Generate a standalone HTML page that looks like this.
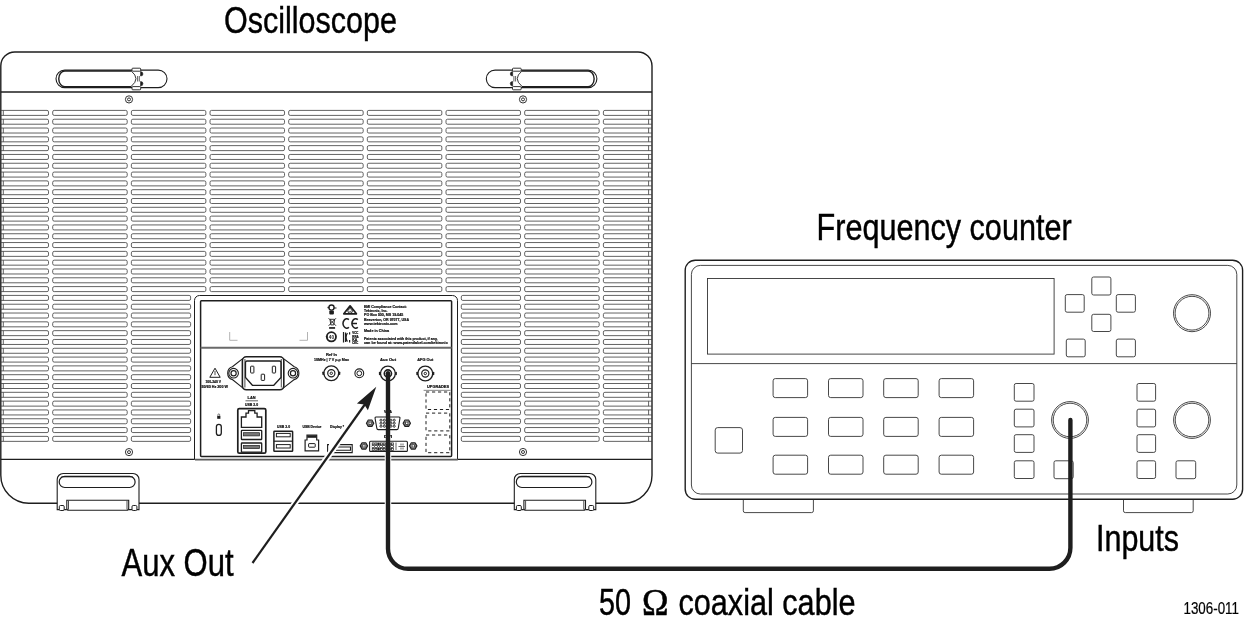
<!DOCTYPE html><html><head><meta charset="utf-8"><style>html,body{margin:0;padding:0;background:#fff;width:1244px;height:627px;overflow:hidden}svg{display:block;will-change:transform}</style></head><body>
<svg width="1244" height="627" viewBox="0 0 1244 627">
<rect width="1244" height="627" fill="#fff"/>
<text x="224" y="33" font-family="&quot;Liberation Sans&quot;" font-size="37.5" font-weight="normal" text-anchor="start" fill="#000" stroke="#000" stroke-width="0.45" textLength="173" lengthAdjust="spacingAndGlyphs">Oscilloscope</text>
<text x="816.6" y="239.6" font-family="&quot;Liberation Sans&quot;" font-size="36.7" font-weight="normal" text-anchor="start" fill="#000" stroke="#000" stroke-width="0.45" textLength="255" lengthAdjust="spacingAndGlyphs">Frequency counter</text>
<text x="1096" y="551.4" font-family="&quot;Liberation Sans&quot;" font-size="37" font-weight="normal" text-anchor="start" fill="#000" stroke="#000" stroke-width="0.45" textLength="83" lengthAdjust="spacingAndGlyphs">Inputs</text>
<text x="121.5" y="575.6" font-family="&quot;Liberation Sans&quot;" font-size="38.5" font-weight="normal" text-anchor="start" fill="#000" stroke="#000" stroke-width="0.45" textLength="112" lengthAdjust="spacingAndGlyphs">Aux Out</text>
<text x="599" y="614.8" font-family="&quot;Liberation Sans&quot;" font-size="37" font-weight="normal" text-anchor="start" fill="#000" stroke="#000" stroke-width="0.45" textLength="32" lengthAdjust="spacingAndGlyphs">50</text>
<text x="642" y="614.8" font-family="&quot;Liberation Serif&quot;" font-size="38" font-weight="normal" text-anchor="start" fill="#000" stroke="#000" stroke-width="0.6" textLength="26.5" lengthAdjust="spacingAndGlyphs">&#937;</text>
<text x="678.5" y="614.8" font-family="&quot;Liberation Sans&quot;" font-size="37" font-weight="normal" text-anchor="start" fill="#000" stroke="#000" stroke-width="0.45" textLength="177" lengthAdjust="spacingAndGlyphs">coaxial cable</text>
<text x="1183.5" y="614.1" font-family="&quot;Liberation Sans&quot;" font-size="16.3" font-weight="normal" text-anchor="start" fill="#000" stroke="#000" stroke-width="0.2" textLength="55.5" lengthAdjust="spacingAndGlyphs">1306-011</text>
<path d="M0.8,66.0 A14,14 0 0 1 14.8,52.0 H638.0 A14,14 0 0 1 652.0,66.0 V475.2 A28,28 0 0 1 624.0,503.2 H28.8 A28,28 0 0 1 0.8,475.2 Z" fill="none" stroke="#1e1e1e" stroke-width="1.4"/>
<line x1="0.80" y1="92.00" x2="652.00" y2="92.00" stroke="#1e1e1e" stroke-width="1.3"/>
<line x1="0.80" y1="459.30" x2="652.00" y2="459.30" stroke="#1e1e1e" stroke-width="1.3"/>
<path d="M0.8,110.40 H47.0 A1.5,1.5 0 0 1 48.5,111.90 V113.90 A1.5,1.5 0 0 1 47.0,115.40 H0.8 M3.3,110.40 V115.40" fill="none" stroke="#404040" stroke-width="0.82"/>
<path d="M652.0,110.40 H604.9 A1.5,1.5 0 0 0 603.4,111.90 V113.90 A1.5,1.5 0 0 0 604.9,115.40 H652.0 M648.6,110.40 V115.40" fill="none" stroke="#404040" stroke-width="0.82"/>
<rect x="52.70" y="110.40" width="74.50" height="5.00" rx="1.50" fill="none" stroke="#404040" stroke-width="0.82"/>
<rect x="131.36" y="110.40" width="74.50" height="5.00" rx="1.50" fill="none" stroke="#404040" stroke-width="0.82"/>
<rect x="210.02" y="110.40" width="74.50" height="5.00" rx="1.50" fill="none" stroke="#404040" stroke-width="0.82"/>
<rect x="288.68" y="110.40" width="74.50" height="5.00" rx="1.50" fill="none" stroke="#404040" stroke-width="0.82"/>
<rect x="367.34" y="110.40" width="74.50" height="5.00" rx="1.50" fill="none" stroke="#404040" stroke-width="0.82"/>
<rect x="446.00" y="110.40" width="74.50" height="5.00" rx="1.50" fill="none" stroke="#404040" stroke-width="0.82"/>
<rect x="524.66" y="110.40" width="74.50" height="5.00" rx="1.50" fill="none" stroke="#404040" stroke-width="0.82"/>
<path d="M0.8,119.21 H47.0 A1.5,1.5 0 0 1 48.5,120.71 V122.71 A1.5,1.5 0 0 1 47.0,124.21 H0.8 M3.3,119.21 V124.21" fill="none" stroke="#404040" stroke-width="0.82"/>
<path d="M652.0,119.21 H604.9 A1.5,1.5 0 0 0 603.4,120.71 V122.71 A1.5,1.5 0 0 0 604.9,124.21 H652.0 M648.6,119.21 V124.21" fill="none" stroke="#404040" stroke-width="0.82"/>
<rect x="52.70" y="119.21" width="74.50" height="5.00" rx="1.50" fill="none" stroke="#404040" stroke-width="0.82"/>
<rect x="131.36" y="119.21" width="74.50" height="5.00" rx="1.50" fill="none" stroke="#404040" stroke-width="0.82"/>
<rect x="210.02" y="119.21" width="74.50" height="5.00" rx="1.50" fill="none" stroke="#404040" stroke-width="0.82"/>
<rect x="288.68" y="119.21" width="74.50" height="5.00" rx="1.50" fill="none" stroke="#404040" stroke-width="0.82"/>
<rect x="367.34" y="119.21" width="74.50" height="5.00" rx="1.50" fill="none" stroke="#404040" stroke-width="0.82"/>
<rect x="446.00" y="119.21" width="74.50" height="5.00" rx="1.50" fill="none" stroke="#404040" stroke-width="0.82"/>
<rect x="524.66" y="119.21" width="74.50" height="5.00" rx="1.50" fill="none" stroke="#404040" stroke-width="0.82"/>
<path d="M0.8,128.02 H47.0 A1.5,1.5 0 0 1 48.5,129.52 V131.52 A1.5,1.5 0 0 1 47.0,133.02 H0.8 M3.3,128.02 V133.02" fill="none" stroke="#404040" stroke-width="0.82"/>
<path d="M652.0,128.02 H604.9 A1.5,1.5 0 0 0 603.4,129.52 V131.52 A1.5,1.5 0 0 0 604.9,133.02 H652.0 M648.6,128.02 V133.02" fill="none" stroke="#404040" stroke-width="0.82"/>
<rect x="52.70" y="128.02" width="74.50" height="5.00" rx="1.50" fill="none" stroke="#404040" stroke-width="0.82"/>
<rect x="131.36" y="128.02" width="74.50" height="5.00" rx="1.50" fill="none" stroke="#404040" stroke-width="0.82"/>
<rect x="210.02" y="128.02" width="74.50" height="5.00" rx="1.50" fill="none" stroke="#404040" stroke-width="0.82"/>
<rect x="288.68" y="128.02" width="74.50" height="5.00" rx="1.50" fill="none" stroke="#404040" stroke-width="0.82"/>
<rect x="367.34" y="128.02" width="74.50" height="5.00" rx="1.50" fill="none" stroke="#404040" stroke-width="0.82"/>
<rect x="446.00" y="128.02" width="74.50" height="5.00" rx="1.50" fill="none" stroke="#404040" stroke-width="0.82"/>
<rect x="524.66" y="128.02" width="74.50" height="5.00" rx="1.50" fill="none" stroke="#404040" stroke-width="0.82"/>
<path d="M0.8,136.83 H47.0 A1.5,1.5 0 0 1 48.5,138.33 V140.33 A1.5,1.5 0 0 1 47.0,141.83 H0.8 M3.3,136.83 V141.83" fill="none" stroke="#404040" stroke-width="0.82"/>
<path d="M652.0,136.83 H604.9 A1.5,1.5 0 0 0 603.4,138.33 V140.33 A1.5,1.5 0 0 0 604.9,141.83 H652.0 M648.6,136.83 V141.83" fill="none" stroke="#404040" stroke-width="0.82"/>
<rect x="52.70" y="136.83" width="74.50" height="5.00" rx="1.50" fill="none" stroke="#404040" stroke-width="0.82"/>
<rect x="131.36" y="136.83" width="74.50" height="5.00" rx="1.50" fill="none" stroke="#404040" stroke-width="0.82"/>
<rect x="210.02" y="136.83" width="74.50" height="5.00" rx="1.50" fill="none" stroke="#404040" stroke-width="0.82"/>
<rect x="288.68" y="136.83" width="74.50" height="5.00" rx="1.50" fill="none" stroke="#404040" stroke-width="0.82"/>
<rect x="367.34" y="136.83" width="74.50" height="5.00" rx="1.50" fill="none" stroke="#404040" stroke-width="0.82"/>
<rect x="446.00" y="136.83" width="74.50" height="5.00" rx="1.50" fill="none" stroke="#404040" stroke-width="0.82"/>
<rect x="524.66" y="136.83" width="74.50" height="5.00" rx="1.50" fill="none" stroke="#404040" stroke-width="0.82"/>
<path d="M0.8,145.64 H47.0 A1.5,1.5 0 0 1 48.5,147.14 V149.14 A1.5,1.5 0 0 1 47.0,150.64 H0.8 M3.3,145.64 V150.64" fill="none" stroke="#404040" stroke-width="0.82"/>
<path d="M652.0,145.64 H604.9 A1.5,1.5 0 0 0 603.4,147.14 V149.14 A1.5,1.5 0 0 0 604.9,150.64 H652.0 M648.6,145.64 V150.64" fill="none" stroke="#404040" stroke-width="0.82"/>
<rect x="52.70" y="145.64" width="74.50" height="5.00" rx="1.50" fill="none" stroke="#404040" stroke-width="0.82"/>
<rect x="131.36" y="145.64" width="74.50" height="5.00" rx="1.50" fill="none" stroke="#404040" stroke-width="0.82"/>
<rect x="210.02" y="145.64" width="74.50" height="5.00" rx="1.50" fill="none" stroke="#404040" stroke-width="0.82"/>
<rect x="288.68" y="145.64" width="74.50" height="5.00" rx="1.50" fill="none" stroke="#404040" stroke-width="0.82"/>
<rect x="367.34" y="145.64" width="74.50" height="5.00" rx="1.50" fill="none" stroke="#404040" stroke-width="0.82"/>
<rect x="446.00" y="145.64" width="74.50" height="5.00" rx="1.50" fill="none" stroke="#404040" stroke-width="0.82"/>
<rect x="524.66" y="145.64" width="74.50" height="5.00" rx="1.50" fill="none" stroke="#404040" stroke-width="0.82"/>
<path d="M0.8,154.45 H47.0 A1.5,1.5 0 0 1 48.5,155.95 V157.95 A1.5,1.5 0 0 1 47.0,159.45 H0.8 M3.3,154.45 V159.45" fill="none" stroke="#404040" stroke-width="0.82"/>
<path d="M652.0,154.45 H604.9 A1.5,1.5 0 0 0 603.4,155.95 V157.95 A1.5,1.5 0 0 0 604.9,159.45 H652.0 M648.6,154.45 V159.45" fill="none" stroke="#404040" stroke-width="0.82"/>
<rect x="52.70" y="154.45" width="74.50" height="5.00" rx="1.50" fill="none" stroke="#404040" stroke-width="0.82"/>
<rect x="131.36" y="154.45" width="74.50" height="5.00" rx="1.50" fill="none" stroke="#404040" stroke-width="0.82"/>
<rect x="210.02" y="154.45" width="74.50" height="5.00" rx="1.50" fill="none" stroke="#404040" stroke-width="0.82"/>
<rect x="288.68" y="154.45" width="74.50" height="5.00" rx="1.50" fill="none" stroke="#404040" stroke-width="0.82"/>
<rect x="367.34" y="154.45" width="74.50" height="5.00" rx="1.50" fill="none" stroke="#404040" stroke-width="0.82"/>
<rect x="446.00" y="154.45" width="74.50" height="5.00" rx="1.50" fill="none" stroke="#404040" stroke-width="0.82"/>
<rect x="524.66" y="154.45" width="74.50" height="5.00" rx="1.50" fill="none" stroke="#404040" stroke-width="0.82"/>
<path d="M0.8,163.26 H47.0 A1.5,1.5 0 0 1 48.5,164.76 V166.76 A1.5,1.5 0 0 1 47.0,168.26 H0.8 M3.3,163.26 V168.26" fill="none" stroke="#404040" stroke-width="0.82"/>
<path d="M652.0,163.26 H604.9 A1.5,1.5 0 0 0 603.4,164.76 V166.76 A1.5,1.5 0 0 0 604.9,168.26 H652.0 M648.6,163.26 V168.26" fill="none" stroke="#404040" stroke-width="0.82"/>
<rect x="52.70" y="163.26" width="74.50" height="5.00" rx="1.50" fill="none" stroke="#404040" stroke-width="0.82"/>
<rect x="131.36" y="163.26" width="74.50" height="5.00" rx="1.50" fill="none" stroke="#404040" stroke-width="0.82"/>
<rect x="210.02" y="163.26" width="74.50" height="5.00" rx="1.50" fill="none" stroke="#404040" stroke-width="0.82"/>
<rect x="288.68" y="163.26" width="74.50" height="5.00" rx="1.50" fill="none" stroke="#404040" stroke-width="0.82"/>
<rect x="367.34" y="163.26" width="74.50" height="5.00" rx="1.50" fill="none" stroke="#404040" stroke-width="0.82"/>
<rect x="446.00" y="163.26" width="74.50" height="5.00" rx="1.50" fill="none" stroke="#404040" stroke-width="0.82"/>
<rect x="524.66" y="163.26" width="74.50" height="5.00" rx="1.50" fill="none" stroke="#404040" stroke-width="0.82"/>
<path d="M0.8,172.07 H47.0 A1.5,1.5 0 0 1 48.5,173.57 V175.57 A1.5,1.5 0 0 1 47.0,177.07 H0.8 M3.3,172.07 V177.07" fill="none" stroke="#404040" stroke-width="0.82"/>
<path d="M652.0,172.07 H604.9 A1.5,1.5 0 0 0 603.4,173.57 V175.57 A1.5,1.5 0 0 0 604.9,177.07 H652.0 M648.6,172.07 V177.07" fill="none" stroke="#404040" stroke-width="0.82"/>
<rect x="52.70" y="172.07" width="74.50" height="5.00" rx="1.50" fill="none" stroke="#404040" stroke-width="0.82"/>
<rect x="131.36" y="172.07" width="74.50" height="5.00" rx="1.50" fill="none" stroke="#404040" stroke-width="0.82"/>
<rect x="210.02" y="172.07" width="74.50" height="5.00" rx="1.50" fill="none" stroke="#404040" stroke-width="0.82"/>
<rect x="288.68" y="172.07" width="74.50" height="5.00" rx="1.50" fill="none" stroke="#404040" stroke-width="0.82"/>
<rect x="367.34" y="172.07" width="74.50" height="5.00" rx="1.50" fill="none" stroke="#404040" stroke-width="0.82"/>
<rect x="446.00" y="172.07" width="74.50" height="5.00" rx="1.50" fill="none" stroke="#404040" stroke-width="0.82"/>
<rect x="524.66" y="172.07" width="74.50" height="5.00" rx="1.50" fill="none" stroke="#404040" stroke-width="0.82"/>
<path d="M0.8,180.88 H47.0 A1.5,1.5 0 0 1 48.5,182.38 V184.38 A1.5,1.5 0 0 1 47.0,185.88 H0.8 M3.3,180.88 V185.88" fill="none" stroke="#404040" stroke-width="0.82"/>
<path d="M652.0,180.88 H604.9 A1.5,1.5 0 0 0 603.4,182.38 V184.38 A1.5,1.5 0 0 0 604.9,185.88 H652.0 M648.6,180.88 V185.88" fill="none" stroke="#404040" stroke-width="0.82"/>
<rect x="52.70" y="180.88" width="74.50" height="5.00" rx="1.50" fill="none" stroke="#404040" stroke-width="0.82"/>
<rect x="131.36" y="180.88" width="74.50" height="5.00" rx="1.50" fill="none" stroke="#404040" stroke-width="0.82"/>
<rect x="210.02" y="180.88" width="74.50" height="5.00" rx="1.50" fill="none" stroke="#404040" stroke-width="0.82"/>
<rect x="288.68" y="180.88" width="74.50" height="5.00" rx="1.50" fill="none" stroke="#404040" stroke-width="0.82"/>
<rect x="367.34" y="180.88" width="74.50" height="5.00" rx="1.50" fill="none" stroke="#404040" stroke-width="0.82"/>
<rect x="446.00" y="180.88" width="74.50" height="5.00" rx="1.50" fill="none" stroke="#404040" stroke-width="0.82"/>
<rect x="524.66" y="180.88" width="74.50" height="5.00" rx="1.50" fill="none" stroke="#404040" stroke-width="0.82"/>
<path d="M0.8,189.69 H47.0 A1.5,1.5 0 0 1 48.5,191.19 V193.19 A1.5,1.5 0 0 1 47.0,194.69 H0.8 M3.3,189.69 V194.69" fill="none" stroke="#404040" stroke-width="0.82"/>
<path d="M652.0,189.69 H604.9 A1.5,1.5 0 0 0 603.4,191.19 V193.19 A1.5,1.5 0 0 0 604.9,194.69 H652.0 M648.6,189.69 V194.69" fill="none" stroke="#404040" stroke-width="0.82"/>
<rect x="52.70" y="189.69" width="74.50" height="5.00" rx="1.50" fill="none" stroke="#404040" stroke-width="0.82"/>
<rect x="131.36" y="189.69" width="74.50" height="5.00" rx="1.50" fill="none" stroke="#404040" stroke-width="0.82"/>
<rect x="210.02" y="189.69" width="74.50" height="5.00" rx="1.50" fill="none" stroke="#404040" stroke-width="0.82"/>
<rect x="288.68" y="189.69" width="74.50" height="5.00" rx="1.50" fill="none" stroke="#404040" stroke-width="0.82"/>
<rect x="367.34" y="189.69" width="74.50" height="5.00" rx="1.50" fill="none" stroke="#404040" stroke-width="0.82"/>
<rect x="446.00" y="189.69" width="74.50" height="5.00" rx="1.50" fill="none" stroke="#404040" stroke-width="0.82"/>
<rect x="524.66" y="189.69" width="74.50" height="5.00" rx="1.50" fill="none" stroke="#404040" stroke-width="0.82"/>
<path d="M0.8,198.50 H47.0 A1.5,1.5 0 0 1 48.5,200.00 V202.00 A1.5,1.5 0 0 1 47.0,203.50 H0.8 M3.3,198.50 V203.50" fill="none" stroke="#404040" stroke-width="0.82"/>
<path d="M652.0,198.50 H604.9 A1.5,1.5 0 0 0 603.4,200.00 V202.00 A1.5,1.5 0 0 0 604.9,203.50 H652.0 M648.6,198.50 V203.50" fill="none" stroke="#404040" stroke-width="0.82"/>
<rect x="52.70" y="198.50" width="74.50" height="5.00" rx="1.50" fill="none" stroke="#404040" stroke-width="0.82"/>
<rect x="131.36" y="198.50" width="74.50" height="5.00" rx="1.50" fill="none" stroke="#404040" stroke-width="0.82"/>
<rect x="210.02" y="198.50" width="74.50" height="5.00" rx="1.50" fill="none" stroke="#404040" stroke-width="0.82"/>
<rect x="288.68" y="198.50" width="74.50" height="5.00" rx="1.50" fill="none" stroke="#404040" stroke-width="0.82"/>
<rect x="367.34" y="198.50" width="74.50" height="5.00" rx="1.50" fill="none" stroke="#404040" stroke-width="0.82"/>
<rect x="446.00" y="198.50" width="74.50" height="5.00" rx="1.50" fill="none" stroke="#404040" stroke-width="0.82"/>
<rect x="524.66" y="198.50" width="74.50" height="5.00" rx="1.50" fill="none" stroke="#404040" stroke-width="0.82"/>
<path d="M0.8,207.31 H47.0 A1.5,1.5 0 0 1 48.5,208.81 V210.81 A1.5,1.5 0 0 1 47.0,212.31 H0.8 M3.3,207.31 V212.31" fill="none" stroke="#404040" stroke-width="0.82"/>
<path d="M652.0,207.31 H604.9 A1.5,1.5 0 0 0 603.4,208.81 V210.81 A1.5,1.5 0 0 0 604.9,212.31 H652.0 M648.6,207.31 V212.31" fill="none" stroke="#404040" stroke-width="0.82"/>
<rect x="52.70" y="207.31" width="74.50" height="5.00" rx="1.50" fill="none" stroke="#404040" stroke-width="0.82"/>
<rect x="131.36" y="207.31" width="74.50" height="5.00" rx="1.50" fill="none" stroke="#404040" stroke-width="0.82"/>
<rect x="210.02" y="207.31" width="74.50" height="5.00" rx="1.50" fill="none" stroke="#404040" stroke-width="0.82"/>
<rect x="288.68" y="207.31" width="74.50" height="5.00" rx="1.50" fill="none" stroke="#404040" stroke-width="0.82"/>
<rect x="367.34" y="207.31" width="74.50" height="5.00" rx="1.50" fill="none" stroke="#404040" stroke-width="0.82"/>
<rect x="446.00" y="207.31" width="74.50" height="5.00" rx="1.50" fill="none" stroke="#404040" stroke-width="0.82"/>
<rect x="524.66" y="207.31" width="74.50" height="5.00" rx="1.50" fill="none" stroke="#404040" stroke-width="0.82"/>
<path d="M0.8,216.12 H47.0 A1.5,1.5 0 0 1 48.5,217.62 V219.62 A1.5,1.5 0 0 1 47.0,221.12 H0.8 M3.3,216.12 V221.12" fill="none" stroke="#404040" stroke-width="0.82"/>
<path d="M652.0,216.12 H604.9 A1.5,1.5 0 0 0 603.4,217.62 V219.62 A1.5,1.5 0 0 0 604.9,221.12 H652.0 M648.6,216.12 V221.12" fill="none" stroke="#404040" stroke-width="0.82"/>
<rect x="52.70" y="216.12" width="74.50" height="5.00" rx="1.50" fill="none" stroke="#404040" stroke-width="0.82"/>
<rect x="131.36" y="216.12" width="74.50" height="5.00" rx="1.50" fill="none" stroke="#404040" stroke-width="0.82"/>
<rect x="210.02" y="216.12" width="74.50" height="5.00" rx="1.50" fill="none" stroke="#404040" stroke-width="0.82"/>
<rect x="288.68" y="216.12" width="74.50" height="5.00" rx="1.50" fill="none" stroke="#404040" stroke-width="0.82"/>
<rect x="367.34" y="216.12" width="74.50" height="5.00" rx="1.50" fill="none" stroke="#404040" stroke-width="0.82"/>
<rect x="446.00" y="216.12" width="74.50" height="5.00" rx="1.50" fill="none" stroke="#404040" stroke-width="0.82"/>
<rect x="524.66" y="216.12" width="74.50" height="5.00" rx="1.50" fill="none" stroke="#404040" stroke-width="0.82"/>
<path d="M0.8,224.93 H47.0 A1.5,1.5 0 0 1 48.5,226.43 V228.43 A1.5,1.5 0 0 1 47.0,229.93 H0.8 M3.3,224.93 V229.93" fill="none" stroke="#404040" stroke-width="0.82"/>
<path d="M652.0,224.93 H604.9 A1.5,1.5 0 0 0 603.4,226.43 V228.43 A1.5,1.5 0 0 0 604.9,229.93 H652.0 M648.6,224.93 V229.93" fill="none" stroke="#404040" stroke-width="0.82"/>
<rect x="52.70" y="224.93" width="74.50" height="5.00" rx="1.50" fill="none" stroke="#404040" stroke-width="0.82"/>
<rect x="131.36" y="224.93" width="74.50" height="5.00" rx="1.50" fill="none" stroke="#404040" stroke-width="0.82"/>
<rect x="210.02" y="224.93" width="74.50" height="5.00" rx="1.50" fill="none" stroke="#404040" stroke-width="0.82"/>
<rect x="288.68" y="224.93" width="74.50" height="5.00" rx="1.50" fill="none" stroke="#404040" stroke-width="0.82"/>
<rect x="367.34" y="224.93" width="74.50" height="5.00" rx="1.50" fill="none" stroke="#404040" stroke-width="0.82"/>
<rect x="446.00" y="224.93" width="74.50" height="5.00" rx="1.50" fill="none" stroke="#404040" stroke-width="0.82"/>
<rect x="524.66" y="224.93" width="74.50" height="5.00" rx="1.50" fill="none" stroke="#404040" stroke-width="0.82"/>
<path d="M0.8,233.74 H47.0 A1.5,1.5 0 0 1 48.5,235.24 V237.24 A1.5,1.5 0 0 1 47.0,238.74 H0.8 M3.3,233.74 V238.74" fill="none" stroke="#404040" stroke-width="0.82"/>
<path d="M652.0,233.74 H604.9 A1.5,1.5 0 0 0 603.4,235.24 V237.24 A1.5,1.5 0 0 0 604.9,238.74 H652.0 M648.6,233.74 V238.74" fill="none" stroke="#404040" stroke-width="0.82"/>
<rect x="52.70" y="233.74" width="74.50" height="5.00" rx="1.50" fill="none" stroke="#404040" stroke-width="0.82"/>
<rect x="131.36" y="233.74" width="74.50" height="5.00" rx="1.50" fill="none" stroke="#404040" stroke-width="0.82"/>
<rect x="210.02" y="233.74" width="74.50" height="5.00" rx="1.50" fill="none" stroke="#404040" stroke-width="0.82"/>
<rect x="288.68" y="233.74" width="74.50" height="5.00" rx="1.50" fill="none" stroke="#404040" stroke-width="0.82"/>
<rect x="367.34" y="233.74" width="74.50" height="5.00" rx="1.50" fill="none" stroke="#404040" stroke-width="0.82"/>
<rect x="446.00" y="233.74" width="74.50" height="5.00" rx="1.50" fill="none" stroke="#404040" stroke-width="0.82"/>
<rect x="524.66" y="233.74" width="74.50" height="5.00" rx="1.50" fill="none" stroke="#404040" stroke-width="0.82"/>
<path d="M0.8,242.55 H47.0 A1.5,1.5 0 0 1 48.5,244.05 V246.05 A1.5,1.5 0 0 1 47.0,247.55 H0.8 M3.3,242.55 V247.55" fill="none" stroke="#404040" stroke-width="0.82"/>
<path d="M652.0,242.55 H604.9 A1.5,1.5 0 0 0 603.4,244.05 V246.05 A1.5,1.5 0 0 0 604.9,247.55 H652.0 M648.6,242.55 V247.55" fill="none" stroke="#404040" stroke-width="0.82"/>
<rect x="52.70" y="242.55" width="74.50" height="5.00" rx="1.50" fill="none" stroke="#404040" stroke-width="0.82"/>
<rect x="131.36" y="242.55" width="74.50" height="5.00" rx="1.50" fill="none" stroke="#404040" stroke-width="0.82"/>
<rect x="210.02" y="242.55" width="74.50" height="5.00" rx="1.50" fill="none" stroke="#404040" stroke-width="0.82"/>
<rect x="288.68" y="242.55" width="74.50" height="5.00" rx="1.50" fill="none" stroke="#404040" stroke-width="0.82"/>
<rect x="367.34" y="242.55" width="74.50" height="5.00" rx="1.50" fill="none" stroke="#404040" stroke-width="0.82"/>
<rect x="446.00" y="242.55" width="74.50" height="5.00" rx="1.50" fill="none" stroke="#404040" stroke-width="0.82"/>
<rect x="524.66" y="242.55" width="74.50" height="5.00" rx="1.50" fill="none" stroke="#404040" stroke-width="0.82"/>
<path d="M0.8,251.36 H47.0 A1.5,1.5 0 0 1 48.5,252.86 V254.86 A1.5,1.5 0 0 1 47.0,256.36 H0.8 M3.3,251.36 V256.36" fill="none" stroke="#404040" stroke-width="0.82"/>
<path d="M652.0,251.36 H604.9 A1.5,1.5 0 0 0 603.4,252.86 V254.86 A1.5,1.5 0 0 0 604.9,256.36 H652.0 M648.6,251.36 V256.36" fill="none" stroke="#404040" stroke-width="0.82"/>
<rect x="52.70" y="251.36" width="74.50" height="5.00" rx="1.50" fill="none" stroke="#404040" stroke-width="0.82"/>
<rect x="131.36" y="251.36" width="74.50" height="5.00" rx="1.50" fill="none" stroke="#404040" stroke-width="0.82"/>
<rect x="210.02" y="251.36" width="74.50" height="5.00" rx="1.50" fill="none" stroke="#404040" stroke-width="0.82"/>
<rect x="288.68" y="251.36" width="74.50" height="5.00" rx="1.50" fill="none" stroke="#404040" stroke-width="0.82"/>
<rect x="367.34" y="251.36" width="74.50" height="5.00" rx="1.50" fill="none" stroke="#404040" stroke-width="0.82"/>
<rect x="446.00" y="251.36" width="74.50" height="5.00" rx="1.50" fill="none" stroke="#404040" stroke-width="0.82"/>
<rect x="524.66" y="251.36" width="74.50" height="5.00" rx="1.50" fill="none" stroke="#404040" stroke-width="0.82"/>
<path d="M0.8,260.17 H47.0 A1.5,1.5 0 0 1 48.5,261.67 V263.67 A1.5,1.5 0 0 1 47.0,265.17 H0.8 M3.3,260.17 V265.17" fill="none" stroke="#404040" stroke-width="0.82"/>
<path d="M652.0,260.17 H604.9 A1.5,1.5 0 0 0 603.4,261.67 V263.67 A1.5,1.5 0 0 0 604.9,265.17 H652.0 M648.6,260.17 V265.17" fill="none" stroke="#404040" stroke-width="0.82"/>
<rect x="52.70" y="260.17" width="74.50" height="5.00" rx="1.50" fill="none" stroke="#404040" stroke-width="0.82"/>
<rect x="131.36" y="260.17" width="74.50" height="5.00" rx="1.50" fill="none" stroke="#404040" stroke-width="0.82"/>
<rect x="210.02" y="260.17" width="74.50" height="5.00" rx="1.50" fill="none" stroke="#404040" stroke-width="0.82"/>
<rect x="288.68" y="260.17" width="74.50" height="5.00" rx="1.50" fill="none" stroke="#404040" stroke-width="0.82"/>
<rect x="367.34" y="260.17" width="74.50" height="5.00" rx="1.50" fill="none" stroke="#404040" stroke-width="0.82"/>
<rect x="446.00" y="260.17" width="74.50" height="5.00" rx="1.50" fill="none" stroke="#404040" stroke-width="0.82"/>
<rect x="524.66" y="260.17" width="74.50" height="5.00" rx="1.50" fill="none" stroke="#404040" stroke-width="0.82"/>
<path d="M0.8,268.98 H47.0 A1.5,1.5 0 0 1 48.5,270.48 V272.48 A1.5,1.5 0 0 1 47.0,273.98 H0.8 M3.3,268.98 V273.98" fill="none" stroke="#404040" stroke-width="0.82"/>
<path d="M652.0,268.98 H604.9 A1.5,1.5 0 0 0 603.4,270.48 V272.48 A1.5,1.5 0 0 0 604.9,273.98 H652.0 M648.6,268.98 V273.98" fill="none" stroke="#404040" stroke-width="0.82"/>
<rect x="52.70" y="268.98" width="74.50" height="5.00" rx="1.50" fill="none" stroke="#404040" stroke-width="0.82"/>
<rect x="131.36" y="268.98" width="74.50" height="5.00" rx="1.50" fill="none" stroke="#404040" stroke-width="0.82"/>
<rect x="210.02" y="268.98" width="74.50" height="5.00" rx="1.50" fill="none" stroke="#404040" stroke-width="0.82"/>
<rect x="288.68" y="268.98" width="74.50" height="5.00" rx="1.50" fill="none" stroke="#404040" stroke-width="0.82"/>
<rect x="367.34" y="268.98" width="74.50" height="5.00" rx="1.50" fill="none" stroke="#404040" stroke-width="0.82"/>
<rect x="446.00" y="268.98" width="74.50" height="5.00" rx="1.50" fill="none" stroke="#404040" stroke-width="0.82"/>
<rect x="524.66" y="268.98" width="74.50" height="5.00" rx="1.50" fill="none" stroke="#404040" stroke-width="0.82"/>
<path d="M0.8,277.79 H47.0 A1.5,1.5 0 0 1 48.5,279.29 V281.29 A1.5,1.5 0 0 1 47.0,282.79 H0.8 M3.3,277.79 V282.79" fill="none" stroke="#404040" stroke-width="0.82"/>
<path d="M652.0,277.79 H604.9 A1.5,1.5 0 0 0 603.4,279.29 V281.29 A1.5,1.5 0 0 0 604.9,282.79 H652.0 M648.6,277.79 V282.79" fill="none" stroke="#404040" stroke-width="0.82"/>
<rect x="52.70" y="277.79" width="74.50" height="5.00" rx="1.50" fill="none" stroke="#404040" stroke-width="0.82"/>
<rect x="131.36" y="277.79" width="74.50" height="5.00" rx="1.50" fill="none" stroke="#404040" stroke-width="0.82"/>
<rect x="210.02" y="277.79" width="74.50" height="5.00" rx="1.50" fill="none" stroke="#404040" stroke-width="0.82"/>
<rect x="288.68" y="277.79" width="74.50" height="5.00" rx="1.50" fill="none" stroke="#404040" stroke-width="0.82"/>
<rect x="367.34" y="277.79" width="74.50" height="5.00" rx="1.50" fill="none" stroke="#404040" stroke-width="0.82"/>
<rect x="446.00" y="277.79" width="74.50" height="5.00" rx="1.50" fill="none" stroke="#404040" stroke-width="0.82"/>
<rect x="524.66" y="277.79" width="74.50" height="5.00" rx="1.50" fill="none" stroke="#404040" stroke-width="0.82"/>
<path d="M0.8,286.60 H47.0 A1.5,1.5 0 0 1 48.5,288.10 V290.10 A1.5,1.5 0 0 1 47.0,291.60 H0.8 M3.3,286.60 V291.60" fill="none" stroke="#404040" stroke-width="0.82"/>
<path d="M652.0,286.60 H604.9 A1.5,1.5 0 0 0 603.4,288.10 V290.10 A1.5,1.5 0 0 0 604.9,291.60 H652.0 M648.6,286.60 V291.60" fill="none" stroke="#404040" stroke-width="0.82"/>
<rect x="52.70" y="286.60" width="74.50" height="5.00" rx="1.50" fill="none" stroke="#404040" stroke-width="0.82"/>
<rect x="131.36" y="286.60" width="74.50" height="5.00" rx="1.50" fill="none" stroke="#404040" stroke-width="0.82"/>
<rect x="210.02" y="286.60" width="74.50" height="5.00" rx="1.50" fill="none" stroke="#404040" stroke-width="0.82"/>
<rect x="288.68" y="286.60" width="74.50" height="5.00" rx="1.50" fill="none" stroke="#404040" stroke-width="0.82"/>
<rect x="367.34" y="286.60" width="74.50" height="5.00" rx="1.50" fill="none" stroke="#404040" stroke-width="0.82"/>
<rect x="446.00" y="286.60" width="74.50" height="5.00" rx="1.50" fill="none" stroke="#404040" stroke-width="0.82"/>
<rect x="524.66" y="286.60" width="74.50" height="5.00" rx="1.50" fill="none" stroke="#404040" stroke-width="0.82"/>
<path d="M0.8,295.41 H47.0 A1.5,1.5 0 0 1 48.5,296.91 V298.91 A1.5,1.5 0 0 1 47.0,300.41 H0.8 M3.3,295.41 V300.41" fill="none" stroke="#404040" stroke-width="0.82"/>
<path d="M652.0,295.41 H604.9 A1.5,1.5 0 0 0 603.4,296.91 V298.91 A1.5,1.5 0 0 0 604.9,300.41 H652.0 M648.6,295.41 V300.41" fill="none" stroke="#404040" stroke-width="0.82"/>
<rect x="52.70" y="295.41" width="74.50" height="5.00" rx="1.50" fill="none" stroke="#404040" stroke-width="0.82"/>
<rect x="131.36" y="295.41" width="59.24" height="5.00" rx="1.50" fill="none" stroke="#404040" stroke-width="0.82"/>
<rect x="461.30" y="295.41" width="59.20" height="5.00" rx="1.50" fill="none" stroke="#404040" stroke-width="0.82"/>
<rect x="524.66" y="295.41" width="74.50" height="5.00" rx="1.50" fill="none" stroke="#404040" stroke-width="0.82"/>
<path d="M0.8,304.22 H47.0 A1.5,1.5 0 0 1 48.5,305.72 V307.72 A1.5,1.5 0 0 1 47.0,309.22 H0.8 M3.3,304.22 V309.22" fill="none" stroke="#404040" stroke-width="0.82"/>
<path d="M652.0,304.22 H604.9 A1.5,1.5 0 0 0 603.4,305.72 V307.72 A1.5,1.5 0 0 0 604.9,309.22 H652.0 M648.6,304.22 V309.22" fill="none" stroke="#404040" stroke-width="0.82"/>
<rect x="52.70" y="304.22" width="74.50" height="5.00" rx="1.50" fill="none" stroke="#404040" stroke-width="0.82"/>
<rect x="131.36" y="304.22" width="59.24" height="5.00" rx="1.50" fill="none" stroke="#404040" stroke-width="0.82"/>
<rect x="461.30" y="304.22" width="59.20" height="5.00" rx="1.50" fill="none" stroke="#404040" stroke-width="0.82"/>
<rect x="524.66" y="304.22" width="74.50" height="5.00" rx="1.50" fill="none" stroke="#404040" stroke-width="0.82"/>
<path d="M0.8,313.03 H47.0 A1.5,1.5 0 0 1 48.5,314.53 V316.53 A1.5,1.5 0 0 1 47.0,318.03 H0.8 M3.3,313.03 V318.03" fill="none" stroke="#404040" stroke-width="0.82"/>
<path d="M652.0,313.03 H604.9 A1.5,1.5 0 0 0 603.4,314.53 V316.53 A1.5,1.5 0 0 0 604.9,318.03 H652.0 M648.6,313.03 V318.03" fill="none" stroke="#404040" stroke-width="0.82"/>
<rect x="52.70" y="313.03" width="74.50" height="5.00" rx="1.50" fill="none" stroke="#404040" stroke-width="0.82"/>
<rect x="131.36" y="313.03" width="59.24" height="5.00" rx="1.50" fill="none" stroke="#404040" stroke-width="0.82"/>
<rect x="461.30" y="313.03" width="59.20" height="5.00" rx="1.50" fill="none" stroke="#404040" stroke-width="0.82"/>
<rect x="524.66" y="313.03" width="74.50" height="5.00" rx="1.50" fill="none" stroke="#404040" stroke-width="0.82"/>
<path d="M0.8,321.84 H47.0 A1.5,1.5 0 0 1 48.5,323.34 V325.34 A1.5,1.5 0 0 1 47.0,326.84 H0.8 M3.3,321.84 V326.84" fill="none" stroke="#404040" stroke-width="0.82"/>
<path d="M652.0,321.84 H604.9 A1.5,1.5 0 0 0 603.4,323.34 V325.34 A1.5,1.5 0 0 0 604.9,326.84 H652.0 M648.6,321.84 V326.84" fill="none" stroke="#404040" stroke-width="0.82"/>
<rect x="52.70" y="321.84" width="74.50" height="5.00" rx="1.50" fill="none" stroke="#404040" stroke-width="0.82"/>
<rect x="131.36" y="321.84" width="59.24" height="5.00" rx="1.50" fill="none" stroke="#404040" stroke-width="0.82"/>
<rect x="461.30" y="321.84" width="59.20" height="5.00" rx="1.50" fill="none" stroke="#404040" stroke-width="0.82"/>
<rect x="524.66" y="321.84" width="74.50" height="5.00" rx="1.50" fill="none" stroke="#404040" stroke-width="0.82"/>
<path d="M0.8,330.65 H47.0 A1.5,1.5 0 0 1 48.5,332.15 V334.15 A1.5,1.5 0 0 1 47.0,335.65 H0.8 M3.3,330.65 V335.65" fill="none" stroke="#404040" stroke-width="0.82"/>
<path d="M652.0,330.65 H604.9 A1.5,1.5 0 0 0 603.4,332.15 V334.15 A1.5,1.5 0 0 0 604.9,335.65 H652.0 M648.6,330.65 V335.65" fill="none" stroke="#404040" stroke-width="0.82"/>
<rect x="52.70" y="330.65" width="74.50" height="5.00" rx="1.50" fill="none" stroke="#404040" stroke-width="0.82"/>
<rect x="131.36" y="330.65" width="59.24" height="5.00" rx="1.50" fill="none" stroke="#404040" stroke-width="0.82"/>
<rect x="461.30" y="330.65" width="59.20" height="5.00" rx="1.50" fill="none" stroke="#404040" stroke-width="0.82"/>
<rect x="524.66" y="330.65" width="74.50" height="5.00" rx="1.50" fill="none" stroke="#404040" stroke-width="0.82"/>
<path d="M0.8,339.46 H47.0 A1.5,1.5 0 0 1 48.5,340.96 V342.96 A1.5,1.5 0 0 1 47.0,344.46 H0.8 M3.3,339.46 V344.46" fill="none" stroke="#404040" stroke-width="0.82"/>
<path d="M652.0,339.46 H604.9 A1.5,1.5 0 0 0 603.4,340.96 V342.96 A1.5,1.5 0 0 0 604.9,344.46 H652.0 M648.6,339.46 V344.46" fill="none" stroke="#404040" stroke-width="0.82"/>
<rect x="52.70" y="339.46" width="74.50" height="5.00" rx="1.50" fill="none" stroke="#404040" stroke-width="0.82"/>
<rect x="131.36" y="339.46" width="59.24" height="5.00" rx="1.50" fill="none" stroke="#404040" stroke-width="0.82"/>
<rect x="461.30" y="339.46" width="59.20" height="5.00" rx="1.50" fill="none" stroke="#404040" stroke-width="0.82"/>
<rect x="524.66" y="339.46" width="74.50" height="5.00" rx="1.50" fill="none" stroke="#404040" stroke-width="0.82"/>
<path d="M0.8,348.27 H47.0 A1.5,1.5 0 0 1 48.5,349.77 V351.77 A1.5,1.5 0 0 1 47.0,353.27 H0.8 M3.3,348.27 V353.27" fill="none" stroke="#404040" stroke-width="0.82"/>
<path d="M652.0,348.27 H604.9 A1.5,1.5 0 0 0 603.4,349.77 V351.77 A1.5,1.5 0 0 0 604.9,353.27 H652.0 M648.6,348.27 V353.27" fill="none" stroke="#404040" stroke-width="0.82"/>
<rect x="52.70" y="348.27" width="74.50" height="5.00" rx="1.50" fill="none" stroke="#404040" stroke-width="0.82"/>
<rect x="131.36" y="348.27" width="59.24" height="5.00" rx="1.50" fill="none" stroke="#404040" stroke-width="0.82"/>
<rect x="461.30" y="348.27" width="59.20" height="5.00" rx="1.50" fill="none" stroke="#404040" stroke-width="0.82"/>
<rect x="524.66" y="348.27" width="74.50" height="5.00" rx="1.50" fill="none" stroke="#404040" stroke-width="0.82"/>
<path d="M0.8,357.08 H47.0 A1.5,1.5 0 0 1 48.5,358.58 V360.58 A1.5,1.5 0 0 1 47.0,362.08 H0.8 M3.3,357.08 V362.08" fill="none" stroke="#404040" stroke-width="0.82"/>
<path d="M652.0,357.08 H604.9 A1.5,1.5 0 0 0 603.4,358.58 V360.58 A1.5,1.5 0 0 0 604.9,362.08 H652.0 M648.6,357.08 V362.08" fill="none" stroke="#404040" stroke-width="0.82"/>
<rect x="52.70" y="357.08" width="74.50" height="5.00" rx="1.50" fill="none" stroke="#404040" stroke-width="0.82"/>
<rect x="131.36" y="357.08" width="59.24" height="5.00" rx="1.50" fill="none" stroke="#404040" stroke-width="0.82"/>
<rect x="461.30" y="357.08" width="59.20" height="5.00" rx="1.50" fill="none" stroke="#404040" stroke-width="0.82"/>
<rect x="524.66" y="357.08" width="74.50" height="5.00" rx="1.50" fill="none" stroke="#404040" stroke-width="0.82"/>
<path d="M0.8,365.89 H47.0 A1.5,1.5 0 0 1 48.5,367.39 V369.39 A1.5,1.5 0 0 1 47.0,370.89 H0.8 M3.3,365.89 V370.89" fill="none" stroke="#404040" stroke-width="0.82"/>
<path d="M652.0,365.89 H604.9 A1.5,1.5 0 0 0 603.4,367.39 V369.39 A1.5,1.5 0 0 0 604.9,370.89 H652.0 M648.6,365.89 V370.89" fill="none" stroke="#404040" stroke-width="0.82"/>
<rect x="52.70" y="365.89" width="74.50" height="5.00" rx="1.50" fill="none" stroke="#404040" stroke-width="0.82"/>
<rect x="131.36" y="365.89" width="59.24" height="5.00" rx="1.50" fill="none" stroke="#404040" stroke-width="0.82"/>
<rect x="461.30" y="365.89" width="59.20" height="5.00" rx="1.50" fill="none" stroke="#404040" stroke-width="0.82"/>
<rect x="524.66" y="365.89" width="74.50" height="5.00" rx="1.50" fill="none" stroke="#404040" stroke-width="0.82"/>
<path d="M0.8,374.70 H47.0 A1.5,1.5 0 0 1 48.5,376.20 V378.20 A1.5,1.5 0 0 1 47.0,379.70 H0.8 M3.3,374.70 V379.70" fill="none" stroke="#404040" stroke-width="0.82"/>
<path d="M652.0,374.70 H604.9 A1.5,1.5 0 0 0 603.4,376.20 V378.20 A1.5,1.5 0 0 0 604.9,379.70 H652.0 M648.6,374.70 V379.70" fill="none" stroke="#404040" stroke-width="0.82"/>
<rect x="52.70" y="374.70" width="74.50" height="5.00" rx="1.50" fill="none" stroke="#404040" stroke-width="0.82"/>
<rect x="131.36" y="374.70" width="59.24" height="5.00" rx="1.50" fill="none" stroke="#404040" stroke-width="0.82"/>
<rect x="461.30" y="374.70" width="59.20" height="5.00" rx="1.50" fill="none" stroke="#404040" stroke-width="0.82"/>
<rect x="524.66" y="374.70" width="74.50" height="5.00" rx="1.50" fill="none" stroke="#404040" stroke-width="0.82"/>
<path d="M0.8,383.51 H47.0 A1.5,1.5 0 0 1 48.5,385.01 V387.01 A1.5,1.5 0 0 1 47.0,388.51 H0.8 M3.3,383.51 V388.51" fill="none" stroke="#404040" stroke-width="0.82"/>
<path d="M652.0,383.51 H604.9 A1.5,1.5 0 0 0 603.4,385.01 V387.01 A1.5,1.5 0 0 0 604.9,388.51 H652.0 M648.6,383.51 V388.51" fill="none" stroke="#404040" stroke-width="0.82"/>
<rect x="52.70" y="383.51" width="74.50" height="5.00" rx="1.50" fill="none" stroke="#404040" stroke-width="0.82"/>
<rect x="131.36" y="383.51" width="59.24" height="5.00" rx="1.50" fill="none" stroke="#404040" stroke-width="0.82"/>
<rect x="461.30" y="383.51" width="59.20" height="5.00" rx="1.50" fill="none" stroke="#404040" stroke-width="0.82"/>
<rect x="524.66" y="383.51" width="74.50" height="5.00" rx="1.50" fill="none" stroke="#404040" stroke-width="0.82"/>
<path d="M0.8,392.32 H47.0 A1.5,1.5 0 0 1 48.5,393.82 V395.82 A1.5,1.5 0 0 1 47.0,397.32 H0.8 M3.3,392.32 V397.32" fill="none" stroke="#404040" stroke-width="0.82"/>
<path d="M652.0,392.32 H604.9 A1.5,1.5 0 0 0 603.4,393.82 V395.82 A1.5,1.5 0 0 0 604.9,397.32 H652.0 M648.6,392.32 V397.32" fill="none" stroke="#404040" stroke-width="0.82"/>
<rect x="52.70" y="392.32" width="74.50" height="5.00" rx="1.50" fill="none" stroke="#404040" stroke-width="0.82"/>
<rect x="131.36" y="392.32" width="59.24" height="5.00" rx="1.50" fill="none" stroke="#404040" stroke-width="0.82"/>
<rect x="461.30" y="392.32" width="59.20" height="5.00" rx="1.50" fill="none" stroke="#404040" stroke-width="0.82"/>
<rect x="524.66" y="392.32" width="74.50" height="5.00" rx="1.50" fill="none" stroke="#404040" stroke-width="0.82"/>
<path d="M0.8,401.13 H47.0 A1.5,1.5 0 0 1 48.5,402.63 V404.63 A1.5,1.5 0 0 1 47.0,406.13 H0.8 M3.3,401.13 V406.13" fill="none" stroke="#404040" stroke-width="0.82"/>
<path d="M652.0,401.13 H604.9 A1.5,1.5 0 0 0 603.4,402.63 V404.63 A1.5,1.5 0 0 0 604.9,406.13 H652.0 M648.6,401.13 V406.13" fill="none" stroke="#404040" stroke-width="0.82"/>
<rect x="52.70" y="401.13" width="74.50" height="5.00" rx="1.50" fill="none" stroke="#404040" stroke-width="0.82"/>
<rect x="131.36" y="401.13" width="59.24" height="5.00" rx="1.50" fill="none" stroke="#404040" stroke-width="0.82"/>
<rect x="461.30" y="401.13" width="59.20" height="5.00" rx="1.50" fill="none" stroke="#404040" stroke-width="0.82"/>
<rect x="524.66" y="401.13" width="74.50" height="5.00" rx="1.50" fill="none" stroke="#404040" stroke-width="0.82"/>
<path d="M0.8,409.94 H47.0 A1.5,1.5 0 0 1 48.5,411.44 V413.44 A1.5,1.5 0 0 1 47.0,414.94 H0.8 M3.3,409.94 V414.94" fill="none" stroke="#404040" stroke-width="0.82"/>
<path d="M652.0,409.94 H604.9 A1.5,1.5 0 0 0 603.4,411.44 V413.44 A1.5,1.5 0 0 0 604.9,414.94 H652.0 M648.6,409.94 V414.94" fill="none" stroke="#404040" stroke-width="0.82"/>
<rect x="52.70" y="409.94" width="74.50" height="5.00" rx="1.50" fill="none" stroke="#404040" stroke-width="0.82"/>
<rect x="131.36" y="409.94" width="59.24" height="5.00" rx="1.50" fill="none" stroke="#404040" stroke-width="0.82"/>
<rect x="461.30" y="409.94" width="59.20" height="5.00" rx="1.50" fill="none" stroke="#404040" stroke-width="0.82"/>
<rect x="524.66" y="409.94" width="74.50" height="5.00" rx="1.50" fill="none" stroke="#404040" stroke-width="0.82"/>
<path d="M0.8,418.75 H47.0 A1.5,1.5 0 0 1 48.5,420.25 V422.25 A1.5,1.5 0 0 1 47.0,423.75 H0.8 M3.3,418.75 V423.75" fill="none" stroke="#404040" stroke-width="0.82"/>
<path d="M652.0,418.75 H604.9 A1.5,1.5 0 0 0 603.4,420.25 V422.25 A1.5,1.5 0 0 0 604.9,423.75 H652.0 M648.6,418.75 V423.75" fill="none" stroke="#404040" stroke-width="0.82"/>
<rect x="52.70" y="418.75" width="74.50" height="5.00" rx="1.50" fill="none" stroke="#404040" stroke-width="0.82"/>
<rect x="131.36" y="418.75" width="59.24" height="5.00" rx="1.50" fill="none" stroke="#404040" stroke-width="0.82"/>
<rect x="461.30" y="418.75" width="59.20" height="5.00" rx="1.50" fill="none" stroke="#404040" stroke-width="0.82"/>
<rect x="524.66" y="418.75" width="74.50" height="5.00" rx="1.50" fill="none" stroke="#404040" stroke-width="0.82"/>
<path d="M0.8,427.56 H47.0 A1.5,1.5 0 0 1 48.5,429.06 V431.06 A1.5,1.5 0 0 1 47.0,432.56 H0.8 M3.3,427.56 V432.56" fill="none" stroke="#404040" stroke-width="0.82"/>
<path d="M652.0,427.56 H604.9 A1.5,1.5 0 0 0 603.4,429.06 V431.06 A1.5,1.5 0 0 0 604.9,432.56 H652.0 M648.6,427.56 V432.56" fill="none" stroke="#404040" stroke-width="0.82"/>
<rect x="52.70" y="427.56" width="74.50" height="5.00" rx="1.50" fill="none" stroke="#404040" stroke-width="0.82"/>
<rect x="131.36" y="427.56" width="59.24" height="5.00" rx="1.50" fill="none" stroke="#404040" stroke-width="0.82"/>
<rect x="461.30" y="427.56" width="59.20" height="5.00" rx="1.50" fill="none" stroke="#404040" stroke-width="0.82"/>
<rect x="524.66" y="427.56" width="74.50" height="5.00" rx="1.50" fill="none" stroke="#404040" stroke-width="0.82"/>
<path d="M0.8,436.37 H47.0 A1.5,1.5 0 0 1 48.5,437.87 V439.87 A1.5,1.5 0 0 1 47.0,441.37 H0.8 M3.3,436.37 V441.37" fill="none" stroke="#404040" stroke-width="0.82"/>
<path d="M652.0,436.37 H604.9 A1.5,1.5 0 0 0 603.4,437.87 V439.87 A1.5,1.5 0 0 0 604.9,441.37 H652.0 M648.6,436.37 V441.37" fill="none" stroke="#404040" stroke-width="0.82"/>
<rect x="52.70" y="436.37" width="74.50" height="5.00" rx="1.50" fill="none" stroke="#404040" stroke-width="0.82"/>
<rect x="131.36" y="436.37" width="59.24" height="5.00" rx="1.50" fill="none" stroke="#404040" stroke-width="0.82"/>
<rect x="461.30" y="436.37" width="59.20" height="5.00" rx="1.50" fill="none" stroke="#404040" stroke-width="0.82"/>
<rect x="524.66" y="436.37" width="74.50" height="5.00" rx="1.50" fill="none" stroke="#404040" stroke-width="0.82"/>
<circle cx="129.00" cy="99.40" r="3.60" fill="none" stroke="#1e1e1e" stroke-width="0.9"/>
<circle cx="129.00" cy="99.40" r="1.50" fill="none" stroke="#1e1e1e" stroke-width="0.9"/>
<circle cx="523.00" cy="99.40" r="3.60" fill="none" stroke="#1e1e1e" stroke-width="0.9"/>
<circle cx="523.00" cy="99.40" r="1.50" fill="none" stroke="#1e1e1e" stroke-width="0.9"/>
<circle cx="129.00" cy="452.10" r="3.60" fill="none" stroke="#1e1e1e" stroke-width="0.9"/>
<circle cx="129.00" cy="452.10" r="1.50" fill="none" stroke="#1e1e1e" stroke-width="0.9"/>
<circle cx="523.00" cy="452.00" r="3.60" fill="none" stroke="#1e1e1e" stroke-width="0.9"/>
<circle cx="523.00" cy="452.00" r="1.50" fill="none" stroke="#1e1e1e" stroke-width="0.9"/>
<rect x="56.00" y="70.10" width="111.00" height="17.50" rx="8.75" fill="none" stroke="#1e1e1e" stroke-width="1.1"/>
<path d="M131.54999999999998,71.0 H64.75 A6.0,7.85 0 0 0 64.75,86.69999999999999 H131.54999999999998" fill="none" stroke="#1e1e1e" stroke-width="1.4"/>
<path d="M131.45,71.2 Q140.45,78.65 131.45,86.1" fill="none" stroke="#1e1e1e" stroke-width="0.9"/>
<rect x="132.00" y="68.20" width="8.70" height="3.00" rx="0.80" fill="#fff" stroke="#1e1e1e" stroke-width="0.9"/>
<rect x="132.00" y="86.60" width="8.70" height="3.20" rx="0.80" fill="#fff" stroke="#1e1e1e" stroke-width="0.9"/>
<line x1="137.60" y1="76.00" x2="137.60" y2="81.50" stroke="#1e1e1e" stroke-width="0.7"/>
<line x1="139.30" y1="76.00" x2="139.30" y2="81.50" stroke="#1e1e1e" stroke-width="0.7"/>
<path d="M140.54999999999998,71.5 Q142.95,71.8 142.95,74 Q142.95,76 140.54999999999998,76 Z M140.54999999999998,81.5 Q142.95,81.5 142.95,83.6 Q142.95,86 140.54999999999998,86 Z" fill="#1e1e1e" stroke="#1e1e1e" stroke-width="0.6"/>
<rect x="486.30" y="70.10" width="110.60" height="17.50" rx="8.75" fill="none" stroke="#1e1e1e" stroke-width="1.1"/>
<path d="M521.65,71.0 H588.15 A6.0,7.85 0 0 1 588.15,86.69999999999999 H521.65" fill="none" stroke="#1e1e1e" stroke-width="1.4"/>
<path d="M521.75,71.2 Q512.75,78.65 521.75,86.1" fill="none" stroke="#1e1e1e" stroke-width="0.9"/>
<rect x="512.50" y="68.20" width="8.70" height="3.00" rx="0.80" fill="#fff" stroke="#1e1e1e" stroke-width="0.9"/>
<rect x="512.50" y="86.60" width="8.70" height="3.20" rx="0.80" fill="#fff" stroke="#1e1e1e" stroke-width="0.9"/>
<line x1="515.60" y1="76.00" x2="515.60" y2="81.50" stroke="#1e1e1e" stroke-width="0.7"/>
<line x1="513.90" y1="76.00" x2="513.90" y2="81.50" stroke="#1e1e1e" stroke-width="0.7"/>
<path d="M512.65,71.5 Q510.25,71.8 510.25,74 Q510.25,76 512.65,76 Z M512.65,81.5 Q510.25,81.5 510.25,83.6 Q510.25,86 512.65,86 Z" fill="#1e1e1e" stroke="#1e1e1e" stroke-width="0.6"/>
<path d="M66.8,509.6 H57.2 V479.5 A6,6 0 0 1 63.2,473.5 H133 A6,6 0 0 1 139,479.5 V509.6 H128.7" fill="#fff" stroke="#1e1e1e" stroke-width="1.1"/>
<rect x="59.20" y="476.40" width="75.90" height="11.10" rx="5.55" fill="none" stroke="#1e1e1e" stroke-width="1.2"/>
<path d="M61.2,476.9 H133" stroke="#1e1e1e" stroke-width="0.8"/>
<path d="M66.8,509.6 V500.2 H128.7 V508.3 Q128.7,510.3 126.7,510.3 H68.8 Q66.8,510.3 66.8,508.3" fill="#fff" stroke="#1e1e1e" stroke-width="1.1"/>
<line x1="68.50" y1="500.80" x2="68.50" y2="509.50" stroke="#1e1e1e" stroke-width="0.8"/>
<line x1="127.00" y1="500.80" x2="127.00" y2="509.50" stroke="#1e1e1e" stroke-width="0.8"/>
<rect x="59.30" y="505.50" width="4.90" height="5.00" rx="1.20" fill="#fff" stroke="#1e1e1e" stroke-width="1.0"/>
<rect x="132.00" y="505.50" width="4.90" height="5.00" rx="1.20" fill="#fff" stroke="#1e1e1e" stroke-width="1.0"/>
<path d="M523.9,509.6 H514.3 V479.5 A6,6 0 0 1 520.3,473.5 H589.8 A6,6 0 0 1 595.8,479.5 V509.6 H585.5" fill="#fff" stroke="#1e1e1e" stroke-width="1.1"/>
<rect x="516.30" y="476.40" width="75.60" height="11.10" rx="5.55" fill="none" stroke="#1e1e1e" stroke-width="1.2"/>
<path d="M518.3,476.9 H589.8" stroke="#1e1e1e" stroke-width="0.8"/>
<path d="M523.9,509.6 V500.2 H585.5 V508.3 Q585.5,510.3 583.5,510.3 H525.9 Q523.9,510.3 523.9,508.3" fill="#fff" stroke="#1e1e1e" stroke-width="1.1"/>
<line x1="525.60" y1="500.80" x2="525.60" y2="509.50" stroke="#1e1e1e" stroke-width="0.8"/>
<line x1="583.80" y1="500.80" x2="583.80" y2="509.50" stroke="#1e1e1e" stroke-width="0.8"/>
<rect x="516.40" y="505.50" width="4.90" height="5.00" rx="1.20" fill="#fff" stroke="#1e1e1e" stroke-width="1.0"/>
<rect x="588.80" y="505.50" width="4.90" height="5.00" rx="1.20" fill="#fff" stroke="#1e1e1e" stroke-width="1.0"/>
<path d="M194.5,459.4 V300.5 A5,5 0 0 1 199.5,295.5 H452.5 A5,5 0 0 1 457.5,300.5 V459.4" fill="#fff" stroke="#1e1e1e" stroke-width="1.0"/>
<line x1="195.00" y1="459.60" x2="457.80" y2="459.60" stroke="#5a5a5a" stroke-width="1.6"/>
<rect x="200.6" y="300.7" width="251" height="155.7" rx="0.8" fill="none" stroke="#1e1e1e" stroke-width="1.5"/>
<line x1="200.60" y1="347.80" x2="451.60" y2="347.80" stroke="#6a6a6a" stroke-width="1.9"/>
<path d="M229.7,332 V340.3 H237.5 M307.5,332 V340.3 H299.5" fill="none" stroke="#aaa" stroke-width="0.9"/>
<text x="364" y="307.8" font-family="&quot;Liberation Sans&quot;" font-size="4.1" font-weight="bold" text-anchor="start" fill="#111" stroke="#111" stroke-width="0.22" textLength="42.8" lengthAdjust="spacingAndGlyphs">EMI Compliance Contact:</text>
<text x="364" y="311.9" font-family="&quot;Liberation Sans&quot;" font-size="4.1" font-weight="bold" text-anchor="start" fill="#111" stroke="#111" stroke-width="0.22" textLength="23.5" lengthAdjust="spacingAndGlyphs">Tektronix, Inc.</text>
<text x="364" y="316.4" font-family="&quot;Liberation Sans&quot;" font-size="4.1" font-weight="bold" text-anchor="start" fill="#111" stroke="#111" stroke-width="0.22" textLength="39.3" lengthAdjust="spacingAndGlyphs">PO Box 500, MS 19-045</text>
<text x="364" y="320.6" font-family="&quot;Liberation Sans&quot;" font-size="4.1" font-weight="bold" text-anchor="start" fill="#111" stroke="#111" stroke-width="0.22" textLength="45" lengthAdjust="spacingAndGlyphs">Beaverton, OR 97077, USA</text>
<text x="364" y="324.9" font-family="&quot;Liberation Sans&quot;" font-size="4.1" font-weight="bold" text-anchor="start" fill="#111" stroke="#111" stroke-width="0.22" textLength="33.6" lengthAdjust="spacingAndGlyphs">www.tektronix.com</text>
<text x="364" y="332.4" font-family="&quot;Liberation Sans&quot;" font-size="4.1" font-weight="bold" text-anchor="start" fill="#111" stroke="#111" stroke-width="0.22" textLength="25" lengthAdjust="spacingAndGlyphs">Made in China</text>
<text x="364" y="339.9" font-family="&quot;Liberation Sans&quot;" font-size="4.1" font-weight="bold" text-anchor="start" fill="#111" stroke="#111" stroke-width="0.22" textLength="73.6" lengthAdjust="spacingAndGlyphs">Patents associated with this product, if any,</text>
<text x="364" y="344.4" font-family="&quot;Liberation Sans&quot;" font-size="4.1" font-weight="bold" text-anchor="start" fill="#111" stroke="#111" stroke-width="0.22" textLength="83.7" lengthAdjust="spacingAndGlyphs">can be found at: www.patentlabel.com/tektronix</text>
<path d="M350.1,305.8 L356.4,313.8 H343.8 Z" fill="none" stroke="#1e1e1e" stroke-width="1.7" stroke-linejoin="round"/>
<circle cx="350.10" cy="310.90" r="2.30" fill="none" stroke="#1e1e1e" stroke-width="1.0"/>
<path d="M349.3,311.2 l0.8,0.8 l1.3,-1.6" fill="none" stroke="#1e1e1e" stroke-width="0.6"/>
<circle cx="331.50" cy="307.60" r="2.60" fill="none" stroke="#1e1e1e" stroke-width="1.3"/>
<path d="M333.5,308 h3" stroke="#1e1e1e" stroke-width="1"/>
<rect x="329.3" y="310.6" width="4.6" height="4" rx="1" fill="#1e1e1e"/>
<rect x="327.5" y="306.8" width="2" height="1.4" fill="#1e1e1e"/>
<path d="M328.6,318.2 L336,325.8 M336,318.2 L328.6,325.8 M330,319.3 h4.6 l-0.8,5.6 h-3 Z" fill="none" stroke="#1e1e1e" stroke-width="0.9"/>
<rect x="329.1" y="327.1" width="6" height="1.7" fill="#1e1e1e"/>
<path d="M348.9,319.6 A3.6,4.8 0 1 0 348.9,327.3" fill="none" stroke="#1e1e1e" stroke-width="1.5"/>
<path d="M357.8,319.6 A3.6,4.8 0 1 0 357.8,327.3 M352.6,323.45 h4.4" fill="none" stroke="#1e1e1e" stroke-width="1.5"/>
<circle cx="331.40" cy="336.80" r="4.60" fill="none" stroke="#1e1e1e" stroke-width="1.8"/>
<path d="M325.5,336.8 l2,-1.4 v2.8 Z" fill="#1e1e1e"/>
<text x="331.4" y="338.6" font-family="&quot;Liberation Sans&quot;" font-size="4.6" font-weight="bold" text-anchor="middle" fill="#111">40</text>
<path d="M343.5,332 V342.6 M345.5,332.5 V342 M347.4,333 Q344.8,337.3 347.4,341.6 M349.6,332.3 V334.5 M349.6,340 V342.4" fill="none" stroke="#1e1e1e" stroke-width="1.2"/>
<text x="352.3" y="334.2" font-family="&quot;Liberation Sans&quot;" font-size="3.2" font-weight="bold" text-anchor="start" fill="#111" stroke="#111" stroke-width="0.22" textLength="6" lengthAdjust="spacingAndGlyphs">VCC</text>
<text x="352.3" y="337.6" font-family="&quot;Liberation Sans&quot;" font-size="3.2" font-weight="bold" text-anchor="start" fill="#111" stroke="#111" stroke-width="0.22" textLength="6.4" lengthAdjust="spacingAndGlyphs">RRA</text>
<text x="352.3" y="341.0" font-family="&quot;Liberation Sans&quot;" font-size="3.2" font-weight="bold" text-anchor="start" fill="#111" stroke="#111" stroke-width="0.22" textLength="5" lengthAdjust="spacingAndGlyphs">KA</text>
<text x="352.3" y="344.4" font-family="&quot;Liberation Sans&quot;" font-size="3.2" font-weight="bold" text-anchor="start" fill="#111" stroke="#111" stroke-width="0.22" textLength="6" lengthAdjust="spacingAndGlyphs">CKC</text>
<path d="M244,357.6 L232.4,366.8 A6.7,6.7 0 0 0 232.4,379.6 L244,388.9 M282.2,357.6 L294.2,366.8 A6.7,6.7 0 0 1 294.2,379.6 L282.2,388.9" fill="none" stroke="#1e1e1e" stroke-width="1.1"/>
<circle cx="233.60" cy="373.20" r="4.80" fill="none" stroke="#1e1e1e" stroke-width="1.1"/>
<circle cx="233.60" cy="373.20" r="2.60" fill="none" stroke="#1e1e1e" stroke-width="1.2"/>
<circle cx="293.00" cy="373.20" r="4.80" fill="none" stroke="#1e1e1e" stroke-width="1.1"/>
<circle cx="293.00" cy="373.20" r="2.60" fill="none" stroke="#1e1e1e" stroke-width="1.2"/>
<rect x="242.40" y="356.80" width="41.40" height="33.00" rx="4.00" fill="#fff" stroke="#1e1e1e" stroke-width="1.6"/>
<line x1="244.90" y1="359.00" x2="244.90" y2="387.50" stroke="#1e1e1e" stroke-width="0.8"/>
<line x1="281.30" y1="359.00" x2="281.30" y2="387.50" stroke="#1e1e1e" stroke-width="0.8"/>
<path d="M245.5,362.5 Q245.5,361 247,361 H279.5 Q281,361 281,362.5 V377.5 L273.8,385.3 H252.4 L245.5,377.5 Z" fill="none" stroke="#1e1e1e" stroke-width="1.3"/>
<rect x="250.60" y="366.20" width="3.30" height="6.80" rx="0.60" fill="none" stroke="#1e1e1e" stroke-width="1.0"/>
<rect x="272.30" y="366.20" width="3.30" height="6.80" rx="0.60" fill="none" stroke="#1e1e1e" stroke-width="1.0"/>
<rect x="261.20" y="374.20" width="3.40" height="6.20" rx="0.60" fill="none" stroke="#1e1e1e" stroke-width="1.0"/>
<path d="M215,368.2 L220.2,377.3 H209.8 Z" fill="none" stroke="#1e1e1e" stroke-width="1"/>
<line x1="215.00" y1="371.00" x2="215.00" y2="375.20" stroke="#1e1e1e" stroke-width="0.8"/>
<text x="205.5" y="383.2" font-family="&quot;Liberation Sans&quot;" font-size="4.4" font-weight="bold" text-anchor="start" fill="#111" stroke="#111" stroke-width="0.22" textLength="15.5" lengthAdjust="spacingAndGlyphs">100-240 V</text>
<text x="201.5" y="387.9" font-family="&quot;Liberation Sans&quot;" font-size="4.4" font-weight="bold" text-anchor="start" fill="#111" stroke="#111" stroke-width="0.22" textLength="26.5" lengthAdjust="spacingAndGlyphs">50/60 Hz 300 W</text>
<circle cx="331.30" cy="373.30" r="7.40" fill="none" stroke="#1e1e1e" stroke-width="1.3"/>
<rect x="322.3" y="371.5" width="1.8" height="3.6" rx="0.8" fill="#1e1e1e"/>
<rect x="338.5" y="371.5" width="1.8" height="3.6" rx="0.8" fill="#1e1e1e"/>
<circle cx="331.30" cy="373.30" r="3.60" fill="none" stroke="#1e1e1e" stroke-width="1.2"/>
<circle cx="331.30" cy="373.30" r="1.20" fill="none" stroke="#1e1e1e" stroke-width="1.0"/>
<circle cx="387.90" cy="373.50" r="7.40" fill="none" stroke="#1e1e1e" stroke-width="1.3"/>
<rect x="378.9" y="371.7" width="1.8" height="3.6" rx="0.8" fill="#1e1e1e"/>
<rect x="395.09999999999997" y="371.7" width="1.8" height="3.6" rx="0.8" fill="#1e1e1e"/>
<circle cx="387.90" cy="373.50" r="3.60" fill="none" stroke="#1e1e1e" stroke-width="1.6"/>
<circle cx="387.90" cy="373.50" r="2.20" fill="#1e1e1e" stroke="#1e1e1e" stroke-width="0"/>
<circle cx="425.30" cy="373.50" r="7.40" fill="none" stroke="#1e1e1e" stroke-width="1.3"/>
<rect x="416.3" y="371.7" width="1.8" height="3.6" rx="0.8" fill="#1e1e1e"/>
<rect x="432.5" y="371.7" width="1.8" height="3.6" rx="0.8" fill="#1e1e1e"/>
<circle cx="425.30" cy="373.50" r="3.60" fill="none" stroke="#1e1e1e" stroke-width="1.2"/>
<circle cx="425.30" cy="373.50" r="1.20" fill="none" stroke="#1e1e1e" stroke-width="1.0"/>
<circle cx="359.30" cy="373.30" r="4.40" fill="none" stroke="#1e1e1e" stroke-width="1.1"/>
<circle cx="359.30" cy="373.30" r="2.40" fill="none" stroke="#1e1e1e" stroke-width="1.0"/>
<text x="331.5" y="355.9" font-family="&quot;Liberation Sans&quot;" font-size="4.4" font-weight="bold" text-anchor="middle" fill="#111" stroke="#111" stroke-width="0.22" textLength="11" lengthAdjust="spacingAndGlyphs">Ref In</text>
<text x="331.5" y="360.8" font-family="&quot;Liberation Sans&quot;" font-size="4.4" font-weight="bold" text-anchor="middle" fill="#111" stroke="#111" stroke-width="0.22" textLength="35" lengthAdjust="spacingAndGlyphs">10MHz | 7 V p-p Max</text>
<text x="388" y="360.8" font-family="&quot;Liberation Sans&quot;" font-size="4.4" font-weight="bold" text-anchor="middle" fill="#111" stroke="#111" stroke-width="0.22" textLength="16" lengthAdjust="spacingAndGlyphs">Aux Out</text>
<text x="425.3" y="360.8" font-family="&quot;Liberation Sans&quot;" font-size="4.4" font-weight="bold" text-anchor="middle" fill="#111" stroke="#111" stroke-width="0.22" textLength="16" lengthAdjust="spacingAndGlyphs">AFG Out</text>
<text x="251.6" y="398.8" font-family="&quot;Liberation Sans&quot;" font-size="4.4" font-weight="bold" text-anchor="middle" fill="#111" stroke="#111" stroke-width="0.22" textLength="8" lengthAdjust="spacingAndGlyphs">LAN</text>
<line x1="245.50" y1="400.80" x2="258.00" y2="400.80" stroke="#1e1e1e" stroke-width="0.7"/>
<text x="251.6" y="405.6" font-family="&quot;Liberation Sans&quot;" font-size="4.4" font-weight="bold" text-anchor="middle" fill="#111" stroke="#111" stroke-width="0.22" textLength="13" lengthAdjust="spacingAndGlyphs">USB 2.0</text>
<rect x="237.80" y="408.60" width="28.00" height="44.60" rx="1.50" fill="none" stroke="#1e1e1e" stroke-width="1.7"/>
<path d="M241.4,427.3 V417 H246 V413.2 H248.5 V410.6 H254.8 V413.2 H257.1 V417 H261.7 V427.3 Z" fill="none" stroke="#1e1e1e" stroke-width="1.3"/>
<rect x="241.40" y="430.30" width="20.30" height="9.20" rx="0.60" fill="none" stroke="#1e1e1e" stroke-width="1.3"/>
<rect x="243.5" y="432.7" width="16" height="3.2" fill="#777" stroke="#1e1e1e" stroke-width="0.7"/>
<rect x="241.40" y="443.00" width="20.30" height="9.20" rx="0.60" fill="none" stroke="#1e1e1e" stroke-width="1.3"/>
<rect x="243.5" y="445.4" width="16" height="3.2" fill="#777" stroke="#1e1e1e" stroke-width="0.7"/>
<rect x="217.2" y="416" width="3.2" height="2.8" fill="#1e1e1e"/>
<path d="M217.9,416 V414.8 A0.9,0.9 0 0 1 219.7,414.8 V416" fill="none" stroke="#1e1e1e" stroke-width="0.6"/>
<rect x="216.40" y="424.40" width="4.90" height="11.00" rx="2.45" fill="none" stroke="#1e1e1e" stroke-width="1.3"/>
<text x="283.6" y="427.9" font-family="&quot;Liberation Sans&quot;" font-size="4.4" font-weight="bold" text-anchor="middle" fill="#111" stroke="#111" stroke-width="0.22" textLength="13" lengthAdjust="spacingAndGlyphs">USB 3.0</text>
<rect x="273.90" y="431.20" width="18.70" height="20.10" rx="0.60" fill="none" stroke="#1e1e1e" stroke-width="1.5"/>
<line x1="273.90" y1="441.20" x2="292.60" y2="441.20" stroke="#1e1e1e" stroke-width="1.2"/>
<rect x="276.4" y="433.4" width="13.8" height="3.4" fill="none" stroke="#1e1e1e" stroke-width="1"/>
<rect x="276.4" y="444.6" width="13.8" height="3.4" fill="none" stroke="#1e1e1e" stroke-width="1"/>
<text x="312" y="427.9" font-family="&quot;Liberation Sans&quot;" font-size="4.4" font-weight="bold" text-anchor="middle" fill="#111" stroke="#111" stroke-width="0.22" textLength="19" lengthAdjust="spacingAndGlyphs">USB Device</text>
<path d="M307,440 V435 H316.7 V440 H318.6 V450.8 H305.1 V440 Z" fill="none" stroke="#1e1e1e" stroke-width="1.2"/>
<rect x="307.2" y="435.2" width="9.3" height="2.6" fill="#1e1e1e"/>
<rect x="308.60" y="443.60" width="6.60" height="3.60" rx="0.50" fill="none" stroke="#1e1e1e" stroke-width="1.0"/>
<text x="337" y="427.9" font-family="&quot;Liberation Sans&quot;" font-size="4.4" font-weight="bold" text-anchor="middle" fill="#111" stroke="#111" stroke-width="0.22" textLength="14" lengthAdjust="spacingAndGlyphs">Display *</text>
<path d="M329,444.6 H327.6 V452.6" fill="none" stroke="#1e1e1e" stroke-width="1.1"/>
<path d="M333,452.6 V448 L336.5,444.6 H352.2 V452.6 Z M336,450.2 H350.5 V447 H338" fill="none" stroke="#1e1e1e" stroke-width="1.1"/>
<path d="M376,417 H399 Q400.2,417 399.9,418.5 L398.3,428.2 Q398,429.6 396.8,429.6 H378.2 Q377,429.6 376.8,428.2 L375.1,418.5 Q374.9,417 376,417 Z" fill="none" stroke="#1e1e1e" stroke-width="1.1"/>
<polygon points="373.80,423.20 371.95,426.40 368.25,426.40 366.40,423.20 368.25,420.00 371.95,420.00" fill="none" stroke="#1e1e1e" stroke-width="1.1" stroke-linejoin="round"/>
<circle cx="370.10" cy="423.20" r="2.60" fill="none" stroke="#1e1e1e" stroke-width="0.7"/>
<rect x="368.90000000000003" y="422.0" width="2.4" height="2.4" fill="none" stroke="#1e1e1e" stroke-width="0.8"/>
<polygon points="410.50,423.20 408.65,426.40 404.95,426.40 403.10,423.20 404.95,420.00 408.65,420.00" fill="none" stroke="#1e1e1e" stroke-width="1.1" stroke-linejoin="round"/>
<circle cx="406.80" cy="423.20" r="2.60" fill="none" stroke="#1e1e1e" stroke-width="0.7"/>
<rect x="405.6" y="422.0" width="2.4" height="2.4" fill="none" stroke="#1e1e1e" stroke-width="0.8"/>
<circle cx="381.00" cy="420.20" r="1.05" fill="none" stroke="#1e1e1e" stroke-width="0.9"/>
<circle cx="384.30" cy="420.20" r="1.05" fill="none" stroke="#1e1e1e" stroke-width="0.9"/>
<circle cx="387.60" cy="420.20" r="1.05" fill="none" stroke="#1e1e1e" stroke-width="0.9"/>
<circle cx="390.90" cy="420.20" r="1.05" fill="none" stroke="#1e1e1e" stroke-width="0.9"/>
<circle cx="394.20" cy="420.20" r="1.05" fill="none" stroke="#1e1e1e" stroke-width="0.9"/>
<circle cx="381.00" cy="423.20" r="1.05" fill="none" stroke="#1e1e1e" stroke-width="0.9"/>
<circle cx="384.30" cy="423.20" r="1.05" fill="none" stroke="#1e1e1e" stroke-width="0.9"/>
<circle cx="387.60" cy="423.20" r="1.05" fill="none" stroke="#1e1e1e" stroke-width="0.9"/>
<circle cx="390.90" cy="423.20" r="1.05" fill="none" stroke="#1e1e1e" stroke-width="0.9"/>
<circle cx="394.20" cy="423.20" r="1.05" fill="none" stroke="#1e1e1e" stroke-width="0.9"/>
<circle cx="381.00" cy="426.20" r="1.05" fill="none" stroke="#1e1e1e" stroke-width="0.9"/>
<circle cx="384.30" cy="426.20" r="1.05" fill="none" stroke="#1e1e1e" stroke-width="0.9"/>
<circle cx="387.60" cy="426.20" r="1.05" fill="none" stroke="#1e1e1e" stroke-width="0.9"/>
<circle cx="390.90" cy="426.20" r="1.05" fill="none" stroke="#1e1e1e" stroke-width="0.9"/>
<circle cx="394.20" cy="426.20" r="1.05" fill="none" stroke="#1e1e1e" stroke-width="0.9"/>
<text x="388" y="413" font-family="&quot;Liberation Sans&quot;" font-size="3.5" font-weight="bold" text-anchor="middle" fill="#111" stroke="#111" stroke-width="0.22" textLength="8" lengthAdjust="spacingAndGlyphs">VGA</text>
<rect x="369.6" y="441.2" width="37.8" height="10.2" rx="1" fill="none" stroke="#1e1e1e" stroke-width="1.1"/>
<rect x="372.20" y="442.90" width="1.9" height="1.9" fill="none" stroke="#1e1e1e" stroke-width="0.7"/>
<rect x="374.95" y="442.90" width="1.9" height="1.9" fill="none" stroke="#1e1e1e" stroke-width="0.7"/>
<rect x="377.70" y="442.90" width="1.9" height="1.9" fill="none" stroke="#1e1e1e" stroke-width="0.7"/>
<rect x="380.45" y="442.90" width="1.9" height="1.9" fill="none" stroke="#1e1e1e" stroke-width="0.7"/>
<rect x="383.20" y="442.90" width="1.9" height="1.9" fill="none" stroke="#1e1e1e" stroke-width="0.7"/>
<rect x="385.95" y="442.90" width="1.9" height="1.9" fill="none" stroke="#1e1e1e" stroke-width="0.7"/>
<rect x="388.70" y="442.90" width="1.9" height="1.9" fill="none" stroke="#1e1e1e" stroke-width="0.7"/>
<rect x="391.45" y="442.90" width="1.9" height="1.9" fill="none" stroke="#1e1e1e" stroke-width="0.7"/>
<rect x="372.20" y="445.65" width="1.9" height="1.9" fill="none" stroke="#1e1e1e" stroke-width="0.7"/>
<rect x="374.95" y="445.65" width="1.9" height="1.9" fill="none" stroke="#1e1e1e" stroke-width="0.7"/>
<rect x="377.70" y="445.65" width="1.9" height="1.9" fill="none" stroke="#1e1e1e" stroke-width="0.7"/>
<rect x="380.45" y="445.65" width="1.9" height="1.9" fill="none" stroke="#1e1e1e" stroke-width="0.7"/>
<rect x="383.20" y="445.65" width="1.9" height="1.9" fill="none" stroke="#1e1e1e" stroke-width="0.7"/>
<rect x="385.95" y="445.65" width="1.9" height="1.9" fill="none" stroke="#1e1e1e" stroke-width="0.7"/>
<rect x="388.70" y="445.65" width="1.9" height="1.9" fill="none" stroke="#1e1e1e" stroke-width="0.7"/>
<rect x="391.45" y="445.65" width="1.9" height="1.9" fill="none" stroke="#1e1e1e" stroke-width="0.7"/>
<rect x="372.20" y="448.40" width="1.9" height="1.9" fill="none" stroke="#1e1e1e" stroke-width="0.7"/>
<rect x="374.95" y="448.40" width="1.9" height="1.9" fill="none" stroke="#1e1e1e" stroke-width="0.7"/>
<rect x="377.70" y="448.40" width="1.9" height="1.9" fill="none" stroke="#1e1e1e" stroke-width="0.7"/>
<rect x="380.45" y="448.40" width="1.9" height="1.9" fill="none" stroke="#1e1e1e" stroke-width="0.7"/>
<rect x="383.20" y="448.40" width="1.9" height="1.9" fill="none" stroke="#1e1e1e" stroke-width="0.7"/>
<rect x="385.95" y="448.40" width="1.9" height="1.9" fill="none" stroke="#1e1e1e" stroke-width="0.7"/>
<rect x="388.70" y="448.40" width="1.9" height="1.9" fill="none" stroke="#1e1e1e" stroke-width="0.7"/>
<rect x="391.45" y="448.40" width="1.9" height="1.9" fill="none" stroke="#1e1e1e" stroke-width="0.7"/>
<path d="M396,442.5 V450 M398.5,446.5 H405 M401,443.5 v2 M403,443.5 v2 M401,447.5 v2 M403,447.5 v2" stroke="#1e1e1e" stroke-width="0.7" fill="none"/>
<polygon points="367.60,445.90 365.75,449.10 362.05,449.10 360.20,445.90 362.05,442.70 365.75,442.70" fill="none" stroke="#1e1e1e" stroke-width="1.1" stroke-linejoin="round"/>
<circle cx="363.90" cy="445.90" r="2.60" fill="none" stroke="#1e1e1e" stroke-width="0.7"/>
<rect x="362.7" y="444.7" width="2.4" height="2.4" fill="none" stroke="#1e1e1e" stroke-width="0.8"/>
<polygon points="416.90,445.90 415.05,449.10 411.35,449.10 409.50,445.90 411.35,442.70 415.05,442.70" fill="none" stroke="#1e1e1e" stroke-width="1.1" stroke-linejoin="round"/>
<circle cx="413.20" cy="445.90" r="2.60" fill="none" stroke="#1e1e1e" stroke-width="0.7"/>
<rect x="412.0" y="444.7" width="2.4" height="2.4" fill="none" stroke="#1e1e1e" stroke-width="0.8"/>
<text x="388" y="437.5" font-family="&quot;Liberation Sans&quot;" font-size="3.5" font-weight="bold" text-anchor="middle" fill="#111" stroke="#111" stroke-width="0.22" textLength="8" lengthAdjust="spacingAndGlyphs">DVI</text>
<text x="438" y="388.3" font-family="&quot;Liberation Sans&quot;" font-size="4.4" font-weight="bold" text-anchor="middle" fill="#111" stroke="#111" stroke-width="0.22" textLength="22" lengthAdjust="spacingAndGlyphs">UPGRADES</text>
<rect x="423.6" y="389.8" width="27" height="1.2" fill="#999"/>
<rect x="426" y="392" width="23.8" height="17.5" fill="none" stroke="#1e1e1e" stroke-width="1" stroke-dasharray="3.2,2.8"/>
<rect x="426" y="413.1" width="23.8" height="17.8" fill="none" stroke="#1e1e1e" stroke-width="1" stroke-dasharray="3.2,2.8"/>
<rect x="426" y="435" width="23.8" height="17.7" fill="none" stroke="#1e1e1e" stroke-width="1" stroke-dasharray="3.2,2.8"/>
<line x1="252.5" y1="563.0" x2="365.5" y2="403.5" stroke="#fff" stroke-width="6"/>
<line x1="252.5" y1="563.0" x2="365.5" y2="403.5" stroke="#1e1e1e" stroke-width="2.2"/>
<path d="M376.3,386.8 L356.9,403.5 L364.2,404.5 L367.9,410.3 Z" fill="#1e1e1e"/>
<rect x="685.20" y="260.20" width="557.40" height="239.10" rx="10.00" fill="none" stroke="#1e1e1e" stroke-width="1.4"/>
<rect x="691.40" y="265.40" width="545.40" height="228.60" rx="9.00" fill="none" stroke="#333" stroke-width="0.9"/>
<line x1="691.40" y1="363.60" x2="1236.80" y2="363.60" stroke="#333" stroke-width="0.9"/>
<rect x="707.5" y="278.5" width="346.6" height="75.6" fill="none" stroke="#333" stroke-width="0.9"/>
<rect x="1091.80" y="277.00" width="19.10" height="18.00" rx="1.80" fill="#fff" stroke="#333" stroke-width="0.9"/>
<rect x="1065.30" y="294.60" width="18.90" height="17.60" rx="1.80" fill="#fff" stroke="#333" stroke-width="0.9"/>
<rect x="1116.30" y="294.60" width="19.10" height="17.60" rx="1.80" fill="#fff" stroke="#333" stroke-width="0.9"/>
<rect x="1091.80" y="314.30" width="19.10" height="17.20" rx="1.80" fill="#fff" stroke="#333" stroke-width="0.9"/>
<rect x="1066.30" y="339.10" width="18.90" height="17.70" rx="1.80" fill="#fff" stroke="#333" stroke-width="0.9"/>
<rect x="1116.30" y="339.10" width="19.10" height="17.70" rx="1.80" fill="#fff" stroke="#333" stroke-width="0.9"/>
<circle cx="1192.00" cy="313.20" r="18.50" fill="none" stroke="#333" stroke-width="0.9"/>
<circle cx="1192.00" cy="313.20" r="16.90" fill="none" stroke="#333" stroke-width="0.9"/>
<rect x="715.20" y="427.60" width="27.30" height="25.50" rx="2.50" fill="#fff" stroke="#333" stroke-width="0.9"/>
<rect x="773.10" y="378.60" width="34.50" height="19.00" rx="2.20" fill="#fff" stroke="#333" stroke-width="0.9"/>
<rect x="773.10" y="417.40" width="34.50" height="19.00" rx="2.20" fill="#fff" stroke="#333" stroke-width="0.9"/>
<rect x="773.10" y="455.20" width="34.50" height="19.00" rx="2.20" fill="#fff" stroke="#333" stroke-width="0.9"/>
<rect x="828.50" y="378.60" width="34.50" height="19.00" rx="2.20" fill="#fff" stroke="#333" stroke-width="0.9"/>
<rect x="828.50" y="417.40" width="34.50" height="19.00" rx="2.20" fill="#fff" stroke="#333" stroke-width="0.9"/>
<rect x="828.50" y="455.20" width="34.50" height="19.00" rx="2.20" fill="#fff" stroke="#333" stroke-width="0.9"/>
<rect x="883.70" y="378.60" width="34.50" height="19.00" rx="2.20" fill="#fff" stroke="#333" stroke-width="0.9"/>
<rect x="883.70" y="417.40" width="34.50" height="19.00" rx="2.20" fill="#fff" stroke="#333" stroke-width="0.9"/>
<rect x="883.70" y="455.20" width="34.50" height="19.00" rx="2.20" fill="#fff" stroke="#333" stroke-width="0.9"/>
<rect x="939.10" y="378.60" width="34.50" height="19.00" rx="2.20" fill="#fff" stroke="#333" stroke-width="0.9"/>
<rect x="939.10" y="417.40" width="34.50" height="19.00" rx="2.20" fill="#fff" stroke="#333" stroke-width="0.9"/>
<rect x="939.10" y="455.20" width="34.50" height="19.00" rx="2.20" fill="#fff" stroke="#333" stroke-width="0.9"/>
<rect x="1014.30" y="383.50" width="19.70" height="17.70" rx="1.80" fill="#fff" stroke="#333" stroke-width="0.9"/>
<rect x="1137.00" y="383.50" width="18.60" height="17.70" rx="1.80" fill="#fff" stroke="#333" stroke-width="0.9"/>
<rect x="1014.30" y="409.20" width="19.70" height="17.70" rx="1.80" fill="#fff" stroke="#333" stroke-width="0.9"/>
<rect x="1137.00" y="409.20" width="18.60" height="17.70" rx="1.80" fill="#fff" stroke="#333" stroke-width="0.9"/>
<rect x="1014.30" y="434.70" width="19.70" height="17.70" rx="1.80" fill="#fff" stroke="#333" stroke-width="0.9"/>
<rect x="1137.00" y="434.70" width="18.60" height="17.70" rx="1.80" fill="#fff" stroke="#333" stroke-width="0.9"/>
<rect x="1014.30" y="460.80" width="19.70" height="17.70" rx="1.80" fill="#fff" stroke="#333" stroke-width="0.9"/>
<rect x="1137.00" y="460.80" width="18.60" height="17.70" rx="1.80" fill="#fff" stroke="#333" stroke-width="0.9"/>
<circle cx="1070.00" cy="420.00" r="18.40" fill="none" stroke="#333" stroke-width="0.9"/>
<circle cx="1070.00" cy="420.00" r="16.80" fill="none" stroke="#333" stroke-width="0.9"/>
<circle cx="1192.00" cy="420.00" r="18.40" fill="none" stroke="#333" stroke-width="0.9"/>
<circle cx="1192.00" cy="420.00" r="16.80" fill="none" stroke="#333" stroke-width="0.9"/>
<rect x="1054.00" y="460.80" width="19.20" height="17.90" rx="1.80" fill="#fff" stroke="#333" stroke-width="0.9"/>
<rect x="1176.00" y="460.80" width="19.70" height="17.90" rx="1.80" fill="#fff" stroke="#333" stroke-width="0.9"/>
<path d="M743.3,499.8 V510.8 Q743.3,512.6 745.0999999999999,512.6 H811.6 Q813.4,512.6 813.4,510.8 V499.8" fill="none" stroke="#333" stroke-width="0.9"/>
<path d="M1123.5,499.8 V510.8 Q1123.5,512.6 1125.3,512.6 H1191.4 Q1193.2,512.6 1193.2,510.8 V499.8" fill="none" stroke="#333" stroke-width="0.9"/>
<path d="M388,453.5 V548.8" fill="none" stroke="#fff" stroke-width="6.5"/>
<path d="M388,373.5 V548.8 A20,20 0 0 0 408,568.8 H1049.4 A21,21 0 0 0 1070.4,547.8 V420" fill="none" stroke="#1e1e1e" stroke-width="4.4" stroke-linecap="round"/>
</svg></body></html>
